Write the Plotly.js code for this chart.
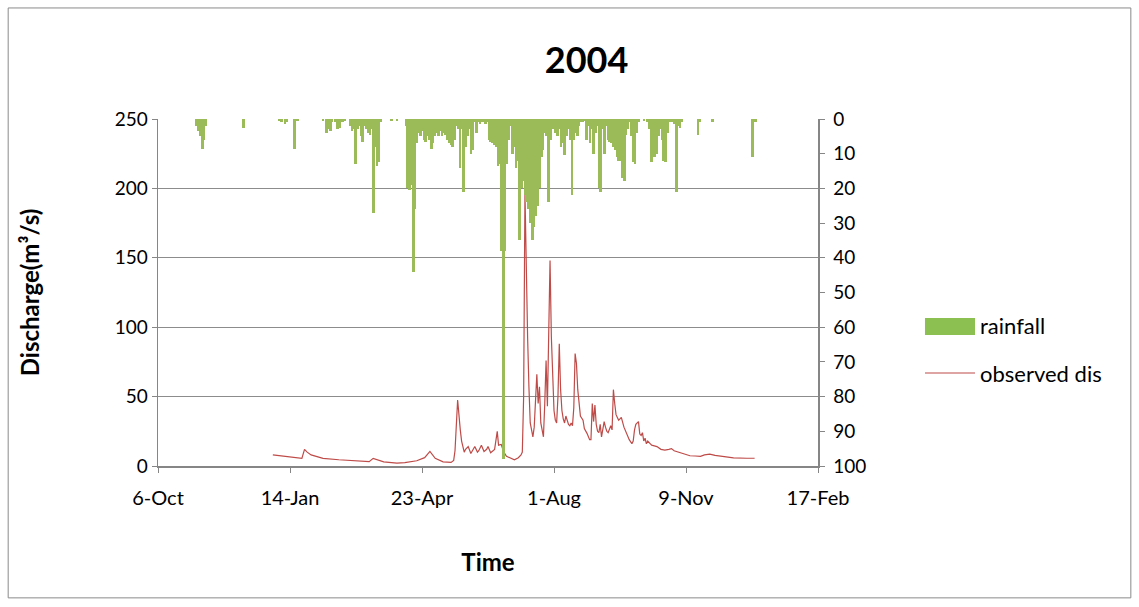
<!DOCTYPE html>
<html>
<head>
<meta charset="utf-8">
<script src="https://cdn.plot.ly/plotly-3.0.1.min.js"></script>
<style>html,body{margin:0;padding:0;background:#fff;}#chart{width:1139px;height:607px;}</style>
</head>
<body>
<div id="chart"></div>
<script>
// X-axis tick labels (100-day spacing)
var tickDates = ['2003-10-06','2004-01-14','2004-04-23','2004-08-01','2004-11-09','2005-02-17'];
var tickLabels = ['6-Oct','14-Jan','23-Apr','1-Aug','9-Nov','17-Feb'];

// Series names
var seriesNames = ['rainfall', 'observed dis'];

// Rainfall (mm), daily, 2004 (days not listed = 0)
var rainDates = [
'2004-01-22','2004-01-23','2004-01-24','2004-01-25','2004-01-26','2004-01-27',
'2004-02-17','2004-03-08','2004-03-09','2004-03-11','2004-03-12','2004-03-16','2004-03-18',
'2004-04-01','2004-04-03','2004-04-04','2004-04-05','2004-04-06','2004-04-08','2004-04-09','2004-04-10',
'2004-04-12','2004-04-13','2004-04-16','2004-04-17','2004-04-18','2004-04-19','2004-04-20','2004-04-21',
'2004-04-22','2004-04-23','2004-04-24','2004-04-25','2004-04-26','2004-04-27','2004-04-28','2004-04-29',
'2004-04-30','2004-05-01','2004-05-02','2004-05-03','2004-05-09','2004-05-12',
'2004-05-17','2004-05-18','2004-05-19','2004-05-20','2004-05-21','2004-05-22','2004-05-23','2004-05-24',
'2004-05-25','2004-05-26','2004-05-27','2004-05-28','2004-05-29','2004-05-30','2004-05-31',
'2004-06-01','2004-06-02','2004-06-03','2004-06-04','2004-06-05','2004-06-06','2004-06-07','2004-06-08',
'2004-06-09','2004-06-10','2004-06-11','2004-06-12','2004-06-13','2004-06-14','2004-06-15','2004-06-16',
'2004-06-17','2004-06-18','2004-06-19','2004-06-20','2004-06-21','2004-06-22','2004-06-23','2004-06-24',
'2004-06-25','2004-06-26','2004-06-27','2004-06-28','2004-06-29','2004-06-30',
'2004-07-01','2004-07-02','2004-07-03','2004-07-04','2004-07-05','2004-07-06','2004-07-07','2004-07-08',
'2004-07-09','2004-07-10','2004-07-11','2004-07-12','2004-07-13','2004-07-14','2004-07-15','2004-07-16',
'2004-07-17','2004-07-18','2004-07-19','2004-07-20','2004-07-21','2004-07-22','2004-07-23','2004-07-24',
'2004-07-25','2004-07-26','2004-07-27','2004-07-28','2004-07-29','2004-07-30','2004-07-31',
'2004-08-01','2004-08-02','2004-08-03','2004-08-04','2004-08-05','2004-08-06','2004-08-07','2004-08-08',
'2004-08-09','2004-08-10','2004-08-11','2004-08-12','2004-08-13','2004-08-14','2004-08-15','2004-08-16',
'2004-08-17','2004-08-18','2004-08-19','2004-08-20','2004-08-21','2004-08-22','2004-08-23','2004-08-24',
'2004-08-25','2004-08-26','2004-08-27','2004-08-28','2004-08-29','2004-08-30','2004-08-31',
'2004-09-01','2004-09-02','2004-09-03','2004-09-04','2004-09-05','2004-09-06','2004-09-07','2004-09-08',
'2004-09-09','2004-09-10','2004-09-11','2004-09-12','2004-09-13','2004-09-14','2004-09-15','2004-09-16',
'2004-09-17','2004-09-18','2004-09-19','2004-09-20','2004-09-21','2004-09-22','2004-09-23','2004-09-26',
'2004-09-28','2004-09-29','2004-09-30',
'2004-10-01','2004-10-02','2004-10-03','2004-10-04','2004-10-05','2004-10-06','2004-10-07','2004-10-08',
'2004-10-09','2004-10-10','2004-10-11','2004-10-12','2004-10-13','2004-10-14','2004-10-15','2004-10-16',
'2004-10-17','2004-10-26','2004-10-27','2004-11-03','2004-11-25','2004-11-26','2004-11-27'
];
var rainMm = [
2,3.5,5,8.5,6,2,
2.5,0.5,1,1.5,1,8.5,0.5,
0.5,4,3,3.5,1,1,3,2.5,
1,0.5,2,3.5,3,13,3,2,
5,6.5,2,3,4,4.5,3,27,
8,13.5,12.5,1,0.5,0.5,
2,20,20.5,19,44,26,7,4,
5,3.5,6,6.5,5,6,8.5,
7,5,4,5,3.5,5,4,4.5,
6,7,7.5,8,6,2,3,14,
3,21,8,5,3,10,9,1,
4,1,1.5,1,1,1.5,
1,6,6.5,7,7.5,8,13.5,13,
38,98,38,13,6,2,10,8,
14,12,35,20,18,22,24,26,
30,35,31,28,25,20,11,
9,4,5,24,6,2,3,4,
5,3,8,7,10.5,5,3,6,
22,6,4,5,2,1,1,0.5,
6,2,7,3,10,4,2,
20,21,3,10,2,6,6.5,7,
8,9,11,12,12,17,18,4.5,
3,1,5,12.5,13,4,1,0.5,
1,3,12.5,
2,11,10,5,3,6,12,12.5,
4,1,0.5,1,1.5,21,2,2.5,
1,4.5,1,1,11,0.5,1
];

// Observed discharge (m3/s), 2004
var disDates = [
'2004-01-01','2004-01-06','2004-01-14','2004-01-23','2004-01-25','2004-01-27','2004-01-30','2004-02-08',
'2004-02-20','2004-03-03','2004-03-14','2004-03-17','2004-03-21','2004-03-25','2004-04-04','2004-04-10',
'2004-04-19','2004-04-25','2004-04-29','2004-05-01','2004-05-03','2004-05-09','2004-05-15','2004-05-17',
'2004-05-18','2004-05-20','2004-05-21','2004-05-22','2004-05-23','2004-05-25','2004-05-26','2004-05-28',
'2004-05-30','2004-05-31','2004-06-02','2004-06-04','2004-06-05','2004-06-07','2004-06-09','2004-06-11',
'2004-06-12','2004-06-14','2004-06-16','2004-06-17','2004-06-19','2004-06-20','2004-06-22','2004-06-24',
'2004-06-26','2004-06-29','2004-07-02','2004-07-05','2004-07-07','2004-07-08','2004-07-09','2004-07-10',
'2004-07-11','2004-07-12','2004-07-13','2004-07-14','2004-07-15','2004-07-16','2004-07-17','2004-07-18',
'2004-07-19','2004-07-20','2004-07-21','2004-07-22','2004-07-23','2004-07-24','2004-07-25','2004-07-26',
'2004-07-27','2004-07-28','2004-07-29','2004-07-30','2004-07-31','2004-08-01','2004-08-02','2004-08-03',
'2004-08-04','2004-08-05','2004-08-06','2004-08-07','2004-08-08','2004-08-09','2004-08-10','2004-08-11',
'2004-08-12','2004-08-13','2004-08-14','2004-08-15','2004-08-16','2004-08-17','2004-08-18','2004-08-19',
'2004-08-20','2004-08-21','2004-08-23','2004-08-24','2004-08-26','2004-08-28','2004-08-29','2004-08-30',
'2004-08-31','2004-09-01','2004-09-02','2004-09-03','2004-09-04','2004-09-05','2004-09-06','2004-09-07',
'2004-09-08','2004-09-09','2004-09-10','2004-09-11','2004-09-12','2004-09-13','2004-09-14','2004-09-15',
'2004-09-16','2004-09-17','2004-09-18','2004-09-19','2004-09-20','2004-09-21','2004-09-23','2004-09-25',
'2004-09-27','2004-09-29','2004-09-30','2004-10-01','2004-10-02','2004-10-04','2004-10-05','2004-10-06',
'2004-10-07','2004-10-08','2004-10-09','2004-10-10','2004-10-11','2004-10-13','2004-10-14','2004-10-16',
'2004-10-18','2004-10-21','2004-10-24','2004-10-27','2004-10-29','2004-10-31','2004-11-03','2004-11-07',
'2004-11-12','2004-11-16','2004-11-20','2004-11-23','2004-11-27','2004-12-01','2004-12-07','2004-12-15',
'2004-12-25','2004-12-31'
];
var disQ = [
8,7.5,6.5,5.5,12,10,8,5.5,
4.5,3.8,3.1,5.5,4,3,2,2.5,
3.8,6,10.5,8,5.5,3,2.6,4,
11,47.5,35,26,18,10,12,14,
9,11,14,10,11,15,10.5,12,
14,9.5,11,12,25,15,15.5,10,
7,5.5,4.5,6,8,10,50,197,
130,93,57,31,26,21,28,50,
66,45,57,31,25,21,45,76,
43,93,148,93,58,40,33,31,
50,88,55,40,34,31,36,33,
30,29,31,29,42,81,74,55,
42,36,33,27,23.5,19,19,45,
32,44,30,25,24,30,21,27,
32,28,25,24,26,29,26,55,
45,37,35,33,34,35,28,23,
19,16,18,26,30,32,23,22,
24,18,20,16,18,16,15,14.5,
14,12,11.5,12,12.5,11,10,8.6,
7.4,7.2,7,8,8.5,7.6,6.7,5.8,
5.6,5.6
];

var FONT = 'Lato, "Open Sans", sans-serif';
var axisGray = '#868686';
var rainColor = '#9BBB59';
var disColor = '#BE4B48';
var DAY = 86400000;

var traces = [
  {
    type: 'bar', name: seriesNames[0], x: rainDates, y: rainMm,
    xaxis: 'x2', yaxis: 'y2', width: 1.5 * DAY,
    marker: {color: rainColor, line: {width: 0}},
    showlegend: false
  },
  {
    type: 'scatter', mode: 'lines', name: seriesNames[1], x: disDates, y: disQ,
    xaxis: 'x', yaxis: 'y',
    line: {color: disColor, width: 1.2},
    showlegend: false
  }
];

var layout = {
  width: 1139, height: 607,
  margin: {l: 158, r: 321, t: 119, b: 141},
  paper_bgcolor: '#ffffff', plot_bgcolor: '#ffffff',
  font: {family: FONT, size: 18, color: '#000'},
  title: {text: '<b>2004</b>', font: {family: FONT, size: 36, color: '#000'},
          x: 0.515, xanchor: 'center', y: 0.90, yanchor: 'middle'},
  bargap: 0,
  showlegend: false,
  xaxis: {
    type: 'date', range: ['2003-10-06', '2005-02-17'],
    tickvals: tickDates, ticktext: tickLabels,
    showgrid: false, zeroline: false,
    showline: true, linecolor: axisGray, linewidth: 1.5,
    ticks: 'outside', ticklen: 5, tickcolor: axisGray, ticklabelstandoff: 8,
    tickfont: {family: FONT, size: 20, color: '#000'},
    title: {text: '<b>Time</b>', font: {family: FONT, size: 24, color: '#000'}, standoff: 46},
    automargin: false
  },
  xaxis2: {
    type: 'date', overlaying: 'x', visible: false,
    range: ['2003-12-31 12:00', '2004-12-31 12:00']
  },
  yaxis: {
    range: [0, 250], tickvals: [0, 50, 100, 150, 200, 250],
    showgrid: true, gridcolor: '#8c8c8c', gridwidth: 1,
    zeroline: false, showline: true, linecolor: axisGray, linewidth: 1.5,
    ticks: 'outside', ticklen: 5, tickcolor: axisGray,
    tickfont: {family: FONT, size: 19, color: '#000'},
    title: {text: '<b>Discharge(m³/s)</b>', font: {family: FONT, size: 24, color: '#000'}, standoff: 68},
    automargin: false
  },
  yaxis2: {
    range: [100, 0], tickvals: [0,10,20,30,40,50,60,70,80,90,100],
    overlaying: 'y', anchor: 'x2', side: 'right',
    showgrid: false, zeroline: false, showline: true, linecolor: axisGray, linewidth: 1.5,
    ticks: 'outside', ticklen: 5, tickcolor: axisGray, ticklabelstandoff: 5,
    tickfont: {family: FONT, size: 19, color: '#000'},
    automargin: false
  },
  shapes: [
    {type: 'rect', xref: 'paper', yref: 'paper',
     x0: -0.227, x1: 1.474, y0: -0.38, y1: 1.32,
     line: {color: '#8a8a8a', width: 1}, fillcolor: 'rgba(0,0,0,0)', layer: 'below'},
    // legend keys
    {type: 'rect', xref: 'paper', yref: 'paper',
     x0: 1.1621, x1: 1.2379, y0: 0.3775, y1: 0.4265,
     line: {width: 0}, fillcolor: '#8CC152'},
    {type: 'line', xref: 'paper', yref: 'paper',
     x0: 1.1621, x1: 1.2379, y0: 0.268, y1: 0.268,
     line: {color: disColor, width: 1.2}}
  ],
  annotations: [
    {xref: 'paper', yref: 'paper', x: 1.2424, y: 0.4035, xanchor: 'left', yanchor: 'middle',
     text: seriesNames[0], showarrow: false, font: {family: FONT, size: 22, color: '#000'}},
    {xref: 'paper', yref: 'paper', x: 1.2424, y: 0.268, xanchor: 'left', yanchor: 'middle',
     text: seriesNames[1], showarrow: false, font: {family: FONT, size: 22, color: '#000'}}
  ]
};

Plotly.newPlot('chart', traces, layout, {displayModeBar: false, staticPlot: true});
</script>
</body>
</html>
